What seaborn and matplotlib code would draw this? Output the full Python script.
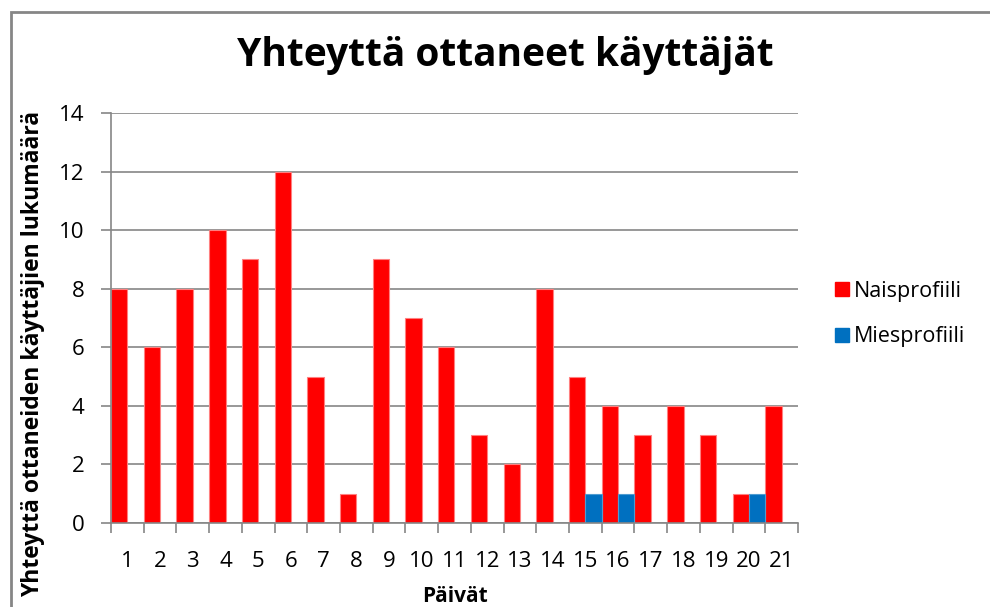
import matplotlib
matplotlib.use("Agg")
import matplotlib.pyplot as plt
import seaborn as sns
import pandas as pd
from matplotlib.patches import Rectangle
from matplotlib.lines import Line2D

days = [str(d) for d in range(1, 22)]
nais = [8, 6, 8, 10, 9, 12, 5, 1, 9, 7, 6, 3, 2, 8, 5, 4, 3, 4, 3, 1, 4]
mies = [0, 0, 0, 0, 0, 0, 0, 0, 0, 0, 0, 0, 0, 0, 1, 1, 0, 0, 0, 1, 0]
series_names = ["Naisprofiili", "Miesprofiili"]
colors = ["#FF0000", "#0070C0"]
title = "Yhteyttä ottaneet käyttäjät"
ylabel = "Yhteyttä ottaneiden käyttäjien lukumäärä"
xlabel = "Päivät"

df = pd.DataFrame({
    "day": days * 2,
    "value": nais + mies,
    "series": [series_names[0]] * len(days) + [series_names[1]] * len(days),
})

sns.set_theme(style="white")
plt.rcParams["font.family"] = ["Open Sans", "DejaVu Sans"]
plt.rcParams["text.color"] = "black"
plt.rcParams["axes.labelcolor"] = "black"

W, H = 990, 607
fig = plt.figure(figsize=(W / 100, H / 100), dpi=100)
ax = fig.add_axes([111 / W, 1 - 523 / H, (798 - 111) / W, (523 - 113) / H])

sns.barplot(data=df, x="day", y="value", hue="series", palette=colors,
            width=1.0, gap=0, ax=ax, legend=False, linewidth=0.8,
            edgecolor="#FF8080", saturation=1)
for p in ax.patches:
    fc = p.get_facecolor()
    if fc[2] > 0.5:
        p.set_edgecolor("#4F9BD0")

ax.set_xlim(-0.5, len(days) - 0.5)
ax.set_ylim(0, 14)
ax.set_yticks(range(0, 15, 2))
ax.yaxis.grid(True, color="#868686", linewidth=1.2)
ax.set_axisbelow(True)
for s in ["top", "right"]:
    ax.spines[s].set_visible(False)
for s in ["left", "bottom"]:
    ax.spines[s].set_color("#868686")
    ax.spines[s].set_linewidth(1.2)

ax.set_xticks(range(len(days)))
ax.set_xticklabels(days)
ax.set_xticks([i - 0.5 for i in range(len(days) + 1)], minor=True)
ax.tick_params(axis="x", which="major", length=0, pad=20, labelsize=16, labelcolor="black")
ax.tick_params(axis="x", which="minor", length=7, width=1.2, color="#868686", bottom=True)
ax.tick_params(axis="y", which="major", length=7, width=1.2, color="#868686", left=True,
               labelsize=16, pad=12, labelcolor="black")

ax.set_xlabel(xlabel, fontsize=15, fontweight="bold")
ax.xaxis.set_label_coords((455 - 111) / 687, (523 - 597) / 410)
ax.xaxis.label.set_va("center")
ax.set_ylabel(ylabel, fontsize=16.5, fontweight="bold")
ax.yaxis.set_label_coords((33 - 111) / 687, (523 - 354) / 410)
ax.yaxis.label.set_va("center")

fig.text(505 / W, 1 - 66 / H, title, fontsize=28, fontweight="bold",
         ha="center", va="baseline", color="black")

handles = [Line2D([0], [0], marker="s", linestyle="none", markersize=10.5,
                  markerfacecolor=c, markeredgecolor=c) for c in colors]
fig.legend(handles, series_names, loc="center left",
           bbox_to_anchor=(812 / W, 1 - 314 / H), frameon=False,
           fontsize=15.5, handletextpad=0.05, labelspacing=1.15, handlelength=1.0,
           labelcolor="black")

fig.add_artist(Rectangle((11 / W, -0.05), 1.1, 1 - 12 / H + 0.05,
                         transform=fig.transFigure, fill=False,
                         edgecolor="#868686", linewidth=2))

fig.savefig("out.png", dpi=100)
